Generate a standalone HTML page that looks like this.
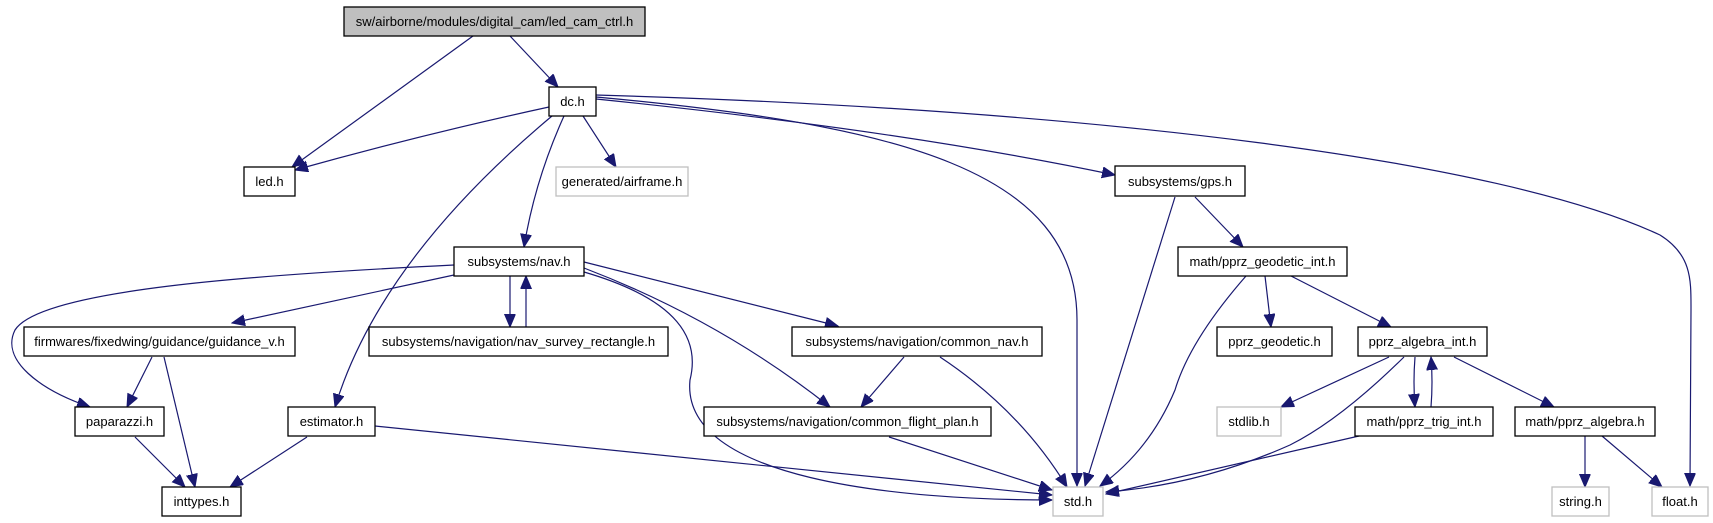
<!DOCTYPE html>
<html><head><meta charset="utf-8"><style>
html,body{margin:0;padding:0;background:#fff;}
svg{display:block;}
text{font-family:"Liberation Sans",Arial,sans-serif;font-size:13px;fill:#000;text-anchor:middle;}
.n{fill:#fff;stroke:#000;stroke-width:1.3;}
.g{fill:#fff;stroke:#bfbfbf;stroke-width:1.3;}
path.e{fill:none;stroke:#191970;stroke-width:1.2;}
</style></head><body>
<svg width="1713" height="523" viewBox="0 0 1713 523" xmlns="http://www.w3.org/2000/svg">
<defs>
<marker id="a" markerUnits="userSpaceOnUse" markerWidth="14" markerHeight="12" refX="13" refY="5.5" orient="auto">
<path d="M0,0 L13,5.5 L0,11 Z" fill="#191970" stroke="#191970"/>
</marker>
</defs>
<g marker-end="url(#a)">
<path class="e" d="M473,36 L292,167"/>
<path class="e" d="M510,36 L558,87"/>
<path class="e" d="M549,107 Q420,135 295,170"/>
<path class="e" d="M583,116 L616,167"/>
<path class="e" d="M564,116 Q535,180 524,247"/>
<path class="e" d="M552,116 Q380,260 335,407"/>
<path class="e" d="M596,97 C900,125 1077,170 1077,320 L1077,486"/>
<path class="e" d="M596,99 Q900,130 1115,175"/>
<path class="e" d="M596,95 C1100,110 1500,160 1660,235 C1692,255 1691,280 1691,310 L1690,486"/>
<path class="e" d="M454,265 C250,275 40,290 15,330 C0,360 40,390 90,407"/>
<path class="e" d="M454,275 L232,323"/>
<path class="e" d="M510,276 L510,327"/>
<path class="e" d="M526,327 L526,276"/>
<path class="e" d="M584,262 L838,326"/>
<path class="e" d="M584,268 Q720,320 830,407"/>
<path class="e" d="M584,272 C680,300 700,340 690,380 C680,480 900,500 1052,500"/>
<path class="e" d="M152,357 L127,407"/>
<path class="e" d="M164,357 L195,487"/>
<path class="e" d="M135,437 L185,487"/>
<path class="e" d="M307,437 L230,487"/>
<path class="e" d="M375,426 L1052,495"/>
<path class="e" d="M904,357 L861,407"/>
<path class="e" d="M940,357 Q1020,410 1067,487"/>
<path class="e" d="M889,437 L1052,490"/>
<path class="e" d="M1175,197 L1085,486"/>
<path class="e" d="M1195,197 L1243,247"/>
<path class="e" d="M1246,276 Q1190,340 1175,390 Q1150,450 1100,486"/>
<path class="e" d="M1265,276 L1271,327"/>
<path class="e" d="M1291,276 L1391,327"/>
<path class="e" d="M1389,357 L1281,407"/>
<path class="e" d="M1404,357 Q1340,420 1290,445 Q1200,485 1106,492"/>
<path class="e" d="M1415,357 Q1413,382 1415,407"/>
<path class="e" d="M1431,407 Q1433,382 1431,357"/>
<path class="e" d="M1454,357 L1554,407"/>
<path class="e" d="M1359,436 L1106,494"/>
<path class="e" d="M1585,436 L1585,487"/>
<path class="e" d="M1602,436 L1662,487"/>
</g>
<rect x="344" y="7" width="301" height="29" fill="#bfbfbf" stroke="#000" stroke-width="1.3"/><text x="494.5" y="26">sw/airborne/modules/digital_cam/led_cam_ctrl.h</text>
<rect class="n" x="549" y="87" width="47" height="29"/><text x="572.5" y="106">dc.h</text>
<rect class="n" x="244" y="167" width="51" height="29"/><text x="269.5" y="186">led.h</text>
<rect class="g" x="556" y="167" width="132" height="29"/><text x="622" y="186">generated/airframe.h</text>
<rect class="n" x="1115" y="166" width="130" height="30"/><text x="1180" y="186">subsystems/gps.h</text>
<rect class="n" x="454" y="247" width="130" height="29"/><text x="519" y="266">subsystems/nav.h</text>
<rect class="n" x="1178" y="247" width="169" height="29"/><text x="1262.5" y="266">math/pprz_geodetic_int.h</text>
<rect class="n" x="24" y="327" width="271" height="29"/><text x="159.5" y="346">firmwares/fixedwing/guidance/guidance_v.h</text>
<rect class="n" x="369" y="327" width="299" height="29"/><text x="518.5" y="346">subsystems/navigation/nav_survey_rectangle.h</text>
<rect class="n" x="792" y="327" width="250" height="29"/><text x="917" y="346">subsystems/navigation/common_nav.h</text>
<rect class="n" x="1217" y="327" width="115" height="29"/><text x="1274.5" y="346">pprz_geodetic.h</text>
<rect class="n" x="1358" y="327" width="129" height="29"/><text x="1422.5" y="346">pprz_algebra_int.h</text>
<rect class="n" x="75" y="407" width="89" height="29"/><text x="119.5" y="426">paparazzi.h</text>
<rect class="n" x="288" y="407" width="87" height="29"/><text x="331.5" y="426">estimator.h</text>
<rect class="n" x="704" y="407" width="287" height="29"/><text x="847.5" y="426">subsystems/navigation/common_flight_plan.h</text>
<rect class="g" x="1217" y="407" width="64" height="29"/><text x="1249" y="426">stdlib.h</text>
<rect class="n" x="1355" y="407" width="138" height="29"/><text x="1424" y="426">math/pprz_trig_int.h</text>
<rect class="n" x="1515" y="407" width="140" height="29"/><text x="1585" y="426">math/pprz_algebra.h</text>
<rect class="n" x="162" y="487" width="79" height="29"/><text x="201.5" y="506">inttypes.h</text>
<rect class="g" x="1053" y="487" width="50" height="29"/><text x="1078" y="506">std.h</text>
<rect class="g" x="1552" y="487" width="57" height="29"/><text x="1580.5" y="506">string.h</text>
<rect class="g" x="1652" y="487" width="56" height="29"/><text x="1680" y="506">float.h</text>
</svg>
</body></html>
